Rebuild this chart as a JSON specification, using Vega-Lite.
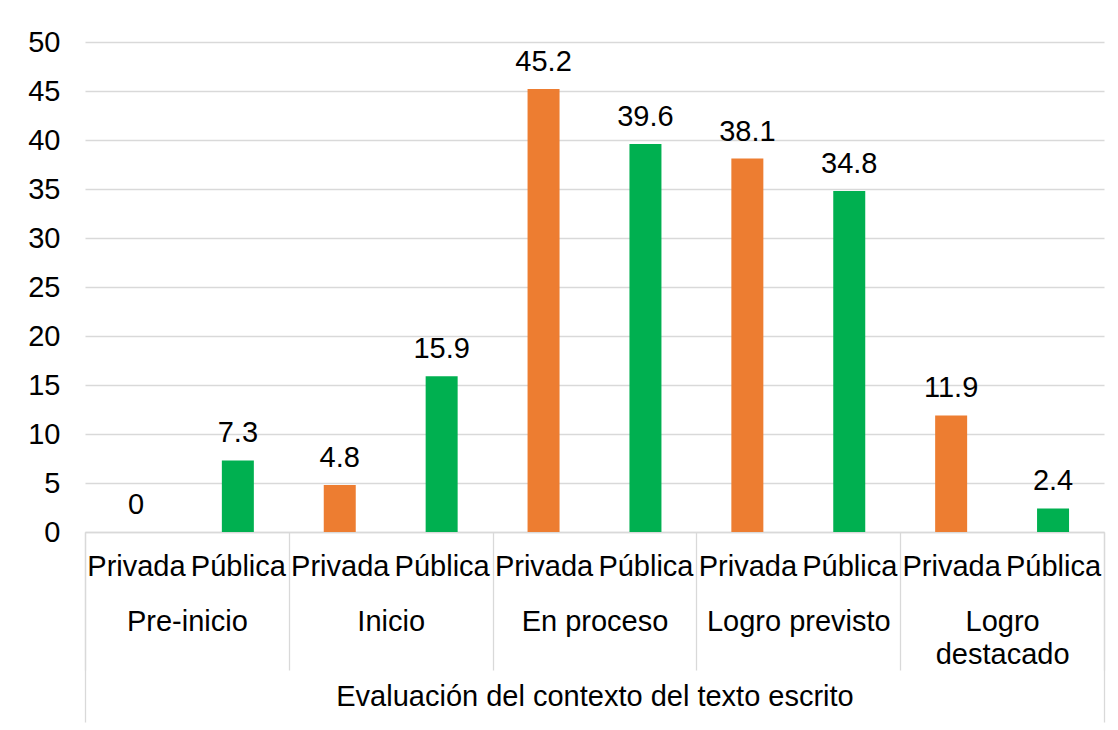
{
  "$schema": "https://vega.github.io/schema/vega-lite/v6.json",
  "width": 1019,
  "height": 490,
  "autosize": {"type": "none"},
  "padding": {"left": 85, "top": 42, "right": 14, "bottom": 198},
  "background": "white",
  "config": {
    "font": "Liberation Sans",
    "view": {"stroke": null},
    "axis": {"labelColor": "#000000", "labelFontSize": 29, "labelFont": "Liberation Sans", "labelLimit": 1000}
  },
  "data": {
    "values": [
      {"group": "Pre-inicio", "sub": "Privada", "key": "Pre-inicio|Privada", "value": 0},
      {"group": "Pre-inicio", "sub": "Pública", "key": "Pre-inicio|Pública", "value": 7.3},
      {"group": "Inicio", "sub": "Privada", "key": "Inicio|Privada", "value": 4.8},
      {"group": "Inicio", "sub": "Pública", "key": "Inicio|Pública", "value": 15.9},
      {"group": "En proceso", "sub": "Privada", "key": "En proceso|Privada", "value": 45.2},
      {"group": "En proceso", "sub": "Pública", "key": "En proceso|Pública", "value": 39.6},
      {"group": "Logro previsto", "sub": "Privada", "key": "Logro previsto|Privada", "value": 38.1},
      {"group": "Logro previsto", "sub": "Pública", "key": "Logro previsto|Pública", "value": 34.8},
      {"group": "Logro destacado", "sub": "Privada", "key": "Logro destacado|Privada", "value": 11.9},
      {"group": "Logro destacado", "sub": "Pública", "key": "Logro destacado|Pública", "value": 2.4}
    ]
  },
  "layer": [
    {
      "encoding": {
        "x": {
          "field": "group",
          "type": "nominal",
          "sort": null,
          "scale": {"paddingInner": 0, "paddingOuter": 0},
          "axis": {
            "orient": "bottom",
            "title": null,
            "domain": true,
            "domainColor": "#d9d9d9",
            "domainWidth": 1.3,
            "ticks": true,
            "tickBand": "extent",
            "tickSize": 138,
            "tickColor": "#d9d9d9",
            "tickWidth": 1.3,
            "labelAngle": 0,
            "labelPadding": -63,
            "labelLineHeight": 33,
            "labelLimit": 1000,
            "labelExpr": "datum.value == 'Logro destacado' ? ['Logro', 'destacado'] : datum.value"
          }
        },
        "xOffset": {
          "field": "sub",
          "type": "nominal",
          "sort": ["Privada", "Pública"],
          "scale": {"paddingInner": 0.686, "paddingOuter": 0.343}
        },
        "y": {
          "field": "value",
          "type": "quantitative",
          "scale": {"domain": [0, 50], "nice": false},
          "axis": {
            "title": null,
            "values": [0, 5, 10, 15, 20, 25, 30, 35, 40, 45, 50],
            "domain": false,
            "ticks": false,
            "grid": true,
            "gridColor": "#d9d9d9",
            "gridWidth": 1.3,
            "labelPadding": 25
          }
        }
      },
      "layer": [
        {
          "mark": {"type": "bar"},
          "encoding": {
            "color": {
              "field": "sub",
              "type": "nominal",
              "scale": {"domain": ["Privada", "Pública"], "range": ["#ED7D31", "#00B050"]},
              "legend": null
            }
          }
        },
        {
          "mark": {"type": "text", "baseline": "alphabetic", "dy": -18, "fontSize": 29, "color": "#000000"},
          "encoding": {"text": {"field": "value", "type": "quantitative"}}
        }
      ]
    },
    {
      "mark": {"type": "text", "text": ""},
      "encoding": {
        "x": {
          "field": "key",
          "type": "nominal",
          "sort": null,
          "scale": {"paddingInner": 0, "paddingOuter": 0},
          "axis": {
            "orient": "bottom",
            "title": null,
            "domain": false,
            "ticks": false,
            "labelAngle": 0,
            "labelPadding": 20,
            "labelLimit": 1000,
            "labelExpr": "split(datum.value, '|')[1]"
          }
        }
      }
    },
    {
      "data": {"values": [{"eje": "Evaluación del contexto del texto escrito"}]},
      "mark": {"type": "text", "text": ""},
      "encoding": {
        "x": {
          "field": "eje",
          "type": "nominal",
          "scale": {"paddingInner": 0, "paddingOuter": 0},
          "axis": {
            "orient": "bottom",
            "title": null,
            "domain": false,
            "ticks": true,
            "tickBand": "extent",
            "tickSize": 190,
            "tickColor": "#d9d9d9",
            "tickWidth": 1.3,
            "labelAngle": 0,
            "labelPadding": -40,
            "labelLimit": 1000
          }
        }
      }
    }
  ],
  "resolve": {"scale": {"x": "independent"}}
}
